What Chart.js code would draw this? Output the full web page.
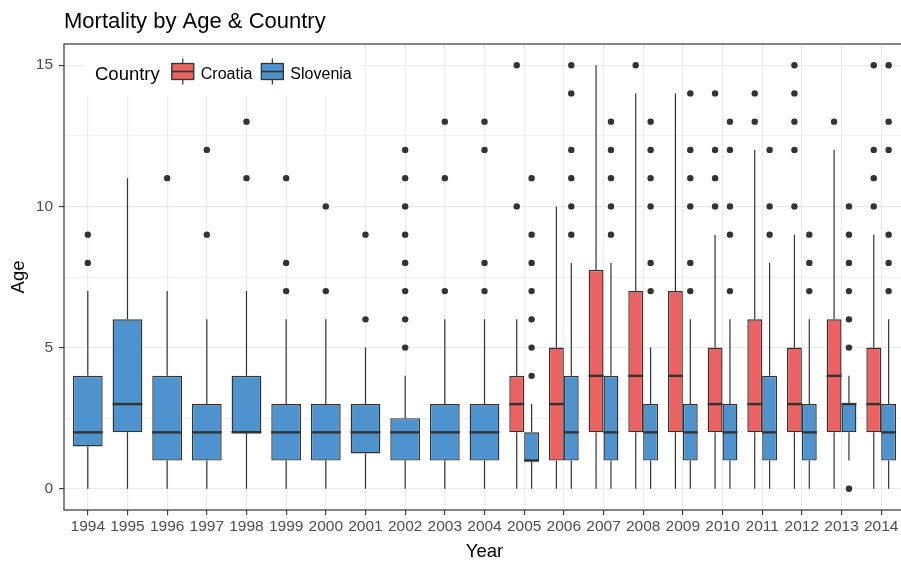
<!DOCTYPE html>
<html>
<head>
<meta charset="utf-8">
<title>Mortality by Age &amp; Country</title>
<script src="https://cdn.jsdelivr.net/npm/chart.js@4.4.1/dist/chart.umd.min.js"></script>
<style>
  html, body { margin: 0; padding: 0; background: #ffffff; overflow: hidden; }
  canvas { display: block; }
</style>
</head>
<body>
<canvas id="chart" width="908" height="561"></canvas>
<script>
// ---- data -------------------------------------------------------------
const years = ['1994', '1995', '1996', '1997', '1998', '1999', '2000', '2001', '2002', '2003', '2004',
               '2005', '2006', '2007', '2008', '2009', '2010', '2011', '2012', '2013', '2014'];
const countries = ['Croatia', 'Slovenia'];

// Slovenia: box-plot statistics for every year 1994-2014
const sloLow      = [0, 0, 0, 0, 0, 0, 0, 0, 0, 0, 0, 0, 0, 0, 0, 0, 0, 0, 0, 1, 0];
const sloQ1       = [1.5, 2, 1, 1, 2, 1, 1, 1.25, 1, 1, 1, 1, 1, 1, 1, 1, 1, 1, 1, 2, 1];
const sloMedian   = [2, 3, 2, 2, 2, 2, 2, 2, 2, 2, 2, 1, 2, 2, 2, 2, 2, 2, 2, 3, 2];
const sloQ3       = [4, 6, 4, 3, 4, 3, 3, 3, 2.5, 3, 3, 2, 4, 4, 3, 3, 3, 4, 3, 3, 3];
const sloHigh     = [7, 11, 7, 6, 7, 6, 6, 5, 4, 6, 6, 3, 8, 8, 5, 6, 6, 8, 6, 4, 6];
const sloOutliers = [
  [8, 9], [], [11], [9, 12], [11, 13], [7, 8, 11], [7, 10], [6, 9],
  [5, 6, 7, 8, 9, 10, 11, 12], [7, 11, 13], [7, 8, 12, 13],
  [4, 5, 6, 7, 8, 9, 11], [9, 10, 11, 12, 14, 15], [9, 10, 11, 12, 13],
  [7, 8, 10, 11, 12, 13], [7, 8, 10, 11, 12, 14], [7, 9, 10, 12, 13],
  [9, 10, 12], [7, 8, 9], [0, 5, 6, 7, 8, 9, 10], [7, 8, 9, 12, 13, 15]
];

// Croatia: recorded from 2005 onwards
const croYears    = ['2005', '2006', '2007', '2008', '2009', '2010', '2011', '2012', '2013', '2014'];
const croLow      = [0, 0, 0, 0, 0, 0, 0, 0, 0, 0];
const croQ1       = [2, 1, 2, 2, 2, 2, 2, 2, 2, 2];
const croMedian   = [3, 3, 4, 4, 4, 3, 3, 3, 4, 3];
const croQ3       = [4, 5, 7.75, 7, 7, 5, 6, 5, 6, 5];
const croHigh     = [6, 10, 15, 14, 14, 9, 12, 9, 12, 9];
const croOutliers = [
  [10, 15], [], [], [15], [], [10, 11, 12, 14], [13, 14],
  [10, 12, 13, 14, 15], [13], [10, 11, 12, 15]
];

const yTicks = [0, 5, 10, 15];

// ---- styling ----------------------------------------------------------
const FONT = '"Liberation Sans", Arial, Helvetica, sans-serif';
const FILL = { Croatia: '#EB6262', Slovenia: '#4E93CD' };
const INK = '#333333';
const GRID = '#EBEBEB';

Chart.defaults.font.family = FONT;

// one stats record per year (null where a country has no data)
function buildStats(labels, low, q1, med, q3, high, outliers) {
  return years.map(yr => {
    const k = labels.indexOf(yr);
    if (k < 0) return null;
    return { low: low[k], q1: q1[k], median: med[k], q3: q3[k], high: high[k], outliers: outliers[k] };
  });
}
const croStats = buildStats(croYears, croLow, croQ1, croMedian, croQ3, croHigh, croOutliers);
const sloStats = buildStats(years, sloLow, sloQ1, sloMedian, sloQ3, sloHigh, sloOutliers);
const seriesStats = [croStats, sloStats];

// ---- whiskers, medians and outlier points -----------------------------
const boxParts = {
  id: 'boxParts',
  beforeDatasetsDraw(chart) {
    const { ctx } = chart;
    const y = chart.scales.y;
    ctx.save();
    ctx.strokeStyle = INK;
    ctx.lineWidth = 1.2;
    seriesStats.forEach((stats, d) => {
      const meta = chart.getDatasetMeta(d);
      stats.forEach((s, i) => {
        if (!s) return;
        const bar = meta.data[i];
        ctx.beginPath();
        ctx.moveTo(bar.x, y.getPixelForValue(s.high));
        ctx.lineTo(bar.x, y.getPixelForValue(s.q3));
        ctx.moveTo(bar.x, y.getPixelForValue(s.q1));
        ctx.lineTo(bar.x, y.getPixelForValue(s.low));
        ctx.stroke();
      });
    });
    ctx.restore();
  },
  afterDatasetsDraw(chart) {
    const { ctx } = chart;
    const y = chart.scales.y;
    ctx.save();
    seriesStats.forEach((stats, d) => {
      const meta = chart.getDatasetMeta(d);
      stats.forEach((s, i) => {
        if (!s) return;
        const bar = meta.data[i];
        const half = bar.width / 2;
        // median
        ctx.strokeStyle = INK;
        ctx.lineWidth = 2.4;
        ctx.beginPath();
        const my = y.getPixelForValue(s.median);
        ctx.moveTo(bar.x - half, my);
        ctx.lineTo(bar.x + half, my);
        ctx.stroke();
        // outliers
        ctx.fillStyle = INK;
        s.outliers.forEach(v => {
          ctx.beginPath();
          ctx.arc(bar.x, y.getPixelForValue(v), 3.2, 0, Math.PI * 2);
          ctx.fill();
        });
      });
    });
    ctx.restore();
  }
};

// ---- title, inside legend and panel border ----------------------------
const decorations = {
  id: 'decorations',
  afterDraw(chart) {
    const { ctx, chartArea: a } = chart;
    ctx.save();

    // title
    ctx.fillStyle = '#000000';
    ctx.textBaseline = 'alphabetic';
    ctx.textAlign = 'left';
    ctx.font = '22px ' + FONT;
    ctx.fillText('Mortality by Age & Country', a.left, 28);

    // legend background
    ctx.fillStyle = '#ffffff';
    ctx.fillRect(a.left + 21, a.top + 1, 275, 51);

    // legend title
    ctx.fillStyle = '#000000';
    ctx.font = '18.5px ' + FONT;
    let x = a.left + 31;
    const base = a.top + 36;
    ctx.fillText('Country', x, base);
    x += ctx.measureText('Country').width + 12;

    ctx.font = '16px ' + FONT;
    const keyW = 22, keyTop = a.top + 19.5, keyH = 16;
    countries.forEach(name => {
      const cx = x + keyW / 2;
      // whisker
      ctx.strokeStyle = INK;
      ctx.lineWidth = 1.2;
      ctx.beginPath();
      ctx.moveTo(cx, keyTop - 5);
      ctx.lineTo(cx, keyTop + keyH + 5);
      ctx.stroke();
      // box
      ctx.fillStyle = FILL[name];
      ctx.fillRect(x, keyTop, keyW, keyH);
      ctx.lineWidth = 1.3;
      ctx.strokeRect(x, keyTop, keyW, keyH);
      // median
      ctx.lineWidth = 1.6;
      ctx.beginPath();
      ctx.moveTo(x, keyTop + keyH / 2);
      ctx.lineTo(x + keyW, keyTop + keyH / 2);
      ctx.stroke();
      // label
      ctx.fillStyle = '#000000';
      ctx.fillText(name, x + keyW + 7, base - 1);
      x += keyW + 7 + ctx.measureText(name).width + 9;
    });

    // panel border
    ctx.strokeStyle = INK;
    ctx.lineWidth = 1.2;
    ctx.strokeRect(a.left, a.top, a.right - a.left, a.bottom - a.top);
    ctx.restore();
  }
};

// ---- chart ------------------------------------------------------------
const datasets = countries.map((name, d) => ({
  label: name,
  data: seriesStats[d].map((s, i) => ({ x: i, y: s ? [s.q1, s.q3] : null })),
  backgroundColor: FILL[name],
  borderColor: INK,
  borderWidth: 1.4,
  borderSkipped: false,
  skipNull: true,
  grouped: true,
  categoryPercentage: 0.75,
  barPercentage: 1
}));

const isMajor = v => yTicks.includes(v);

new Chart(document.getElementById('chart'), {
  type: 'bar',
  data: { datasets },
  plugins: [boxParts, decorations],
  options: {
    responsive: false,
    animation: false,
    devicePixelRatio: 1,
    events: [],
    layout: { padding: { top: 44, left: 0, right: 3, bottom: 0 } },
    plugins: {
      legend: { display: false },
      tooltip: { enabled: false },
      title: { display: false }
    },
    scales: {
      x: {
        type: 'linear',
        min: -0.6,
        max: 20.6,
        offset: false,
        afterFit: s => { s.height = 51; },
        border: { display: false },
        grid: { offset: false, color: GRID, lineWidth: 1.2, tickLength: 5, tickColor: INK, tickWidth: 1.1 },
        ticks: {
          stepSize: 1,
          includeBounds: false,
          autoSkip: false,
          maxRotation: 0,
          minRotation: 0,
          padding: 2.5,
          color: '#4D4D4D',
          font: { size: 15.5 },
          callback: v => (years[v] !== undefined ? years[v] : '')
        },
        title: { display: true, text: 'Year', color: '#000000', font: { size: 18.5, lineHeight: 1 }, padding: { top: 0, bottom: 0 } }
      },
      y: {
        type: 'linear',
        min: -0.75,
        max: 15.75,
        afterFit: s => { s.width = 64; },
        border: { display: false },
        grid: {
          color: GRID,
          lineWidth: c => (c.tick && isMajor(c.tick.value) ? 1.2 : 0.7),
          tickLength: 5,
          tickColor: c => (c.tick && isMajor(c.tick.value) ? INK : 'rgba(0,0,0,0)'),
          tickWidth: 1.1
        },
        ticks: {
          stepSize: 2.5,
          includeBounds: false,
          padding: 6,
          color: '#4D4D4D',
          font: { size: 15.5 },
          callback: v => (isMajor(v) ? String(v) : '')
        },
        title: { display: true, text: 'Age', color: '#000000', font: { size: 18.5 }, padding: { top: 8, bottom: 0 } }
      }
    }
  }
});
</script>
</body>
</html>
